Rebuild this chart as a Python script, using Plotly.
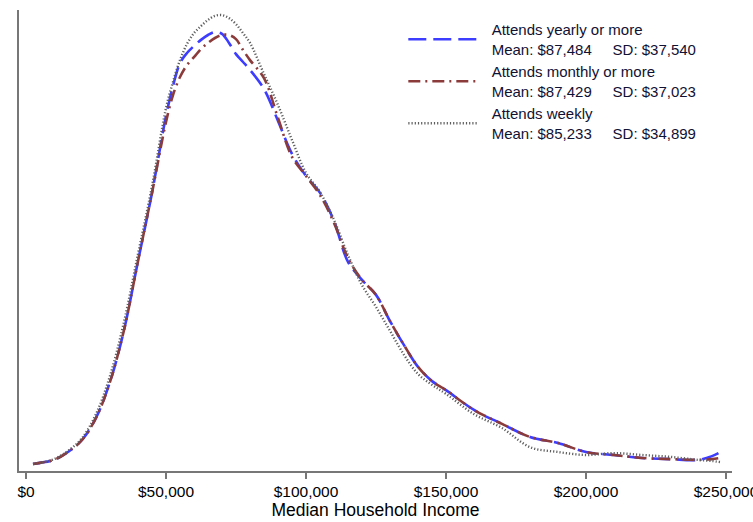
import plotly.graph_objects as go

# Income grid (USD) at which the kernel densities are read
income = [2500, 5000, 10000, 15000, 20000, 25000, 30000, 35000, 40000, 45000,
          50000, 52500, 55000, 57500, 60000, 62500, 65000, 67500, 70000, 72500,
          75000, 77500, 80000, 85000, 90000, 95000, 100000, 105000, 110000, 115000,
          120000, 125000, 130000, 135000, 140000, 145000, 150000, 160000, 170000,
          180000, 190000, 200000, 210000, 220000, 230000, 240000, 245000, 248000]

# Densities, in units of 1e-6 per dollar
dens_yearly = [0.08, 0.11, 0.19, 0.40, 0.72, 1.31, 2.27, 3.65, 5.49, 7.31,
               9.36, 10.16, 10.77, 11.04, 11.23, 11.39, 11.52, 11.60, 11.55, 11.31,
               11.01, 10.80, 10.59, 10.08, 9.23, 8.35, 7.76, 7.31, 6.56, 5.47,
               4.99, 4.59, 3.89, 3.25, 2.67, 2.29, 2.05, 1.52, 1.15,
               0.80, 0.64, 0.40, 0.32, 0.24, 0.21, 0.19, 0.29, 0.40]

dens_monthly = [0.08, 0.11, 0.19, 0.40, 0.72, 1.31, 2.27, 3.65, 5.49, 7.31,
                9.20, 9.92, 10.40, 10.72, 10.93, 11.15, 11.31, 11.44, 11.52, 11.52,
                11.41, 11.12, 10.85, 10.37, 9.31, 8.27, 7.76, 7.25, 6.51, 5.57,
                4.99, 4.59, 3.89, 3.25, 2.67, 2.29, 2.05, 1.52, 1.15,
                0.80, 0.64, 0.40, 0.32, 0.24, 0.21, 0.19, 0.21, 0.24]

dens_weekly = [0.08, 0.11, 0.21, 0.43, 0.77, 1.41, 2.43, 3.87, 5.68, 7.49,
               9.57, 10.27, 10.85, 11.28, 11.57, 11.76, 11.92, 12.03, 12.05, 11.97,
               11.81, 11.57, 11.31, 10.48, 9.65, 8.72, 7.84, 7.33, 6.59, 5.65,
               4.85, 4.27, 3.63, 2.99, 2.48, 2.19, 1.95, 1.41, 1.04,
               0.53, 0.40, 0.32, 0.37, 0.32, 0.27, 0.19, 0.16, 0.13]

series_labels = ["Attends yearly or more", "Attends monthly or more", "Attends weekly"]
series_means = ["$87,484", "$87,429", "$85,233"]
series_sds = ["$37,540", "$37,023", "$34,899"]

tick_vals = [0, 50000, 100000, 150000, 200000, 250000]
tick_text = ["$0", "$50,000", "$100,000", "$150,000", "$200,000", "$250,000"]

NB = "\u00a0"


def legend_name(i):
    return (NB * 2 + series_labels[i] + "<br>" + NB * 2 + "Mean: " + series_means[i]
            + NB * 5 + "SD: " + series_sds[i])


styles = [
    dict(color="#3d3dff", width=2.6, dash="18px,7px"),
    dict(color="#8c3b3b", width=2.6, dash="12px,5px,2px,5px"),
    dict(color="#5e5e5e", width=2.4, dash="1.2px,2px"),
]
series_values = [dens_yearly, dens_monthly, dens_weekly]

fig = go.Figure()
for i in range(3):
    fig.add_trace(go.Scatter(x=income, y=series_values[i], mode="lines",
                             name=legend_name(i),
                             line=dict(shape="spline", **styles[i])))

fig.update_layout(
    width=753, height=522,
    margin=dict(l=19, r=21, t=10, b=51),
    paper_bgcolor="white", plot_bgcolor="white",
    font=dict(family="Liberation Sans, Arial, sans-serif", color="black"),
    showlegend=True,
    legend=dict(x=0.539, y=0.993, xanchor="left", yanchor="top",
                bgcolor="rgba(0,0,0,0)", itemwidth=70,
                font=dict(size=15, color="#111133")),
    xaxis=dict(range=[-2500, 252143], tickvals=tick_vals, ticktext=tick_text,
               showline=True, linecolor="#777777", linewidth=1.5,
               ticks="outside", ticklen=6, tickcolor="#777777", tickwidth=1.5,
               showgrid=False, zeroline=False, automargin=False,
               ticklabeloverflow="allow",
               tickfont=dict(size=15.5),
               title=dict(text="Median Household Income", font=dict(size=17.5), standoff=0)),
    yaxis=dict(range=[-0.107, 12.187], showticklabels=False, ticks="",
               showline=True, linecolor="#777777", linewidth=1.5,
               showgrid=False, zeroline=False, automargin=False),
)

fig.write_html("out.html", config={"displayModeBar": False},
               post_script="document.body.style.margin='0';")
